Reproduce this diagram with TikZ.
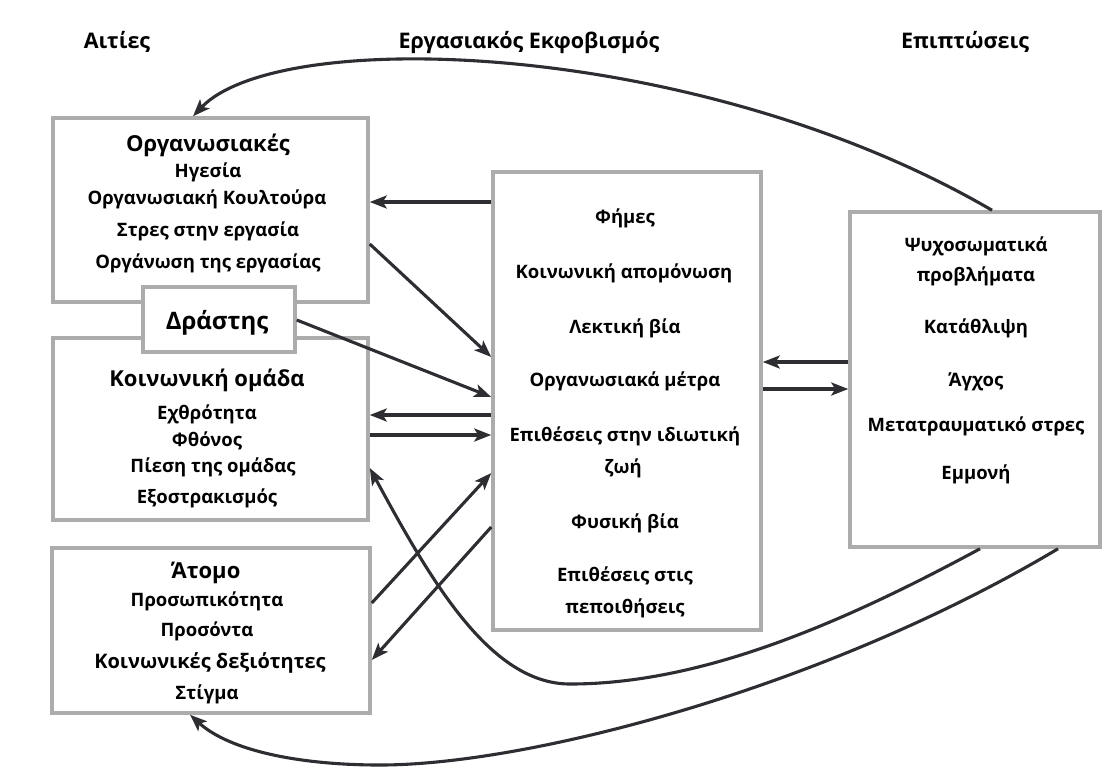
\documentclass[tikz,border=0pt]{standalone}
\usepackage{fontspec}
\setmainfont{Open Sans}
\usetikzlibrary{arrows.meta}
\definecolor{boxgray}{RGB}{172,172,172}
\definecolor{arrowgray}{RGB}{45,45,50}
\tikzset{
  boxnode/.style={draw=boxgray, line width=3.5pt, fill=white, inner sep=0pt, rectangle},
  item/.style={anchor=base, inner sep=0pt, font=\bfseries\fontsize{18.5}{22}\selectfont},
  head/.style={anchor=base, inner sep=0pt, font=\bfseries\fontsize{22}{26}\selectfont},
  title/.style={anchor=base, inner sep=0pt, font=\bfseries\fontsize{21.5}{25}\selectfont},
  arr/.style={draw=arrowgray, line width=3.1pt, -{Stealth[length=17pt,width=13pt,inset=4pt]}},
}
\begin{document}
\begin{tikzpicture}[x=1pt,y=-1pt]
\useasboundingbox (0,0) rectangle (1110,780);
% titles
\node[title] (tcause) at (117,48) {Αιτίες};
\node[title] (tbully) at (529,48) {Εργασιακός Εκφοβισμός};
\node[title] (teff) at (965,48) {Επιπτώσεις};
% boxes
\node[boxnode, minimum width=315pt, minimum height=184pt] (org) at (210.5,210) {};
\node[boxnode, minimum width=315pt, minimum height=182pt] (soc) at (210.5,429) {};
\node[boxnode, minimum width=318pt, minimum height=165pt] (atom) at (211,630.5) {};
\node[boxnode, minimum width=268pt, minimum height=458pt] (mid) at (627,401) {};
\node[boxnode, minimum width=250pt, minimum height=335pt] (eff) at (975,379.5) {};
\node[boxnode, minimum width=152pt, minimum height=65pt] (per) at (219,319.5) {};
% org texts
\node[head] (o0) at (208,151) {Οργανωσιακές};
\node[item] (o1) at (208,177) {Ηγεσία};
\node[item] (o2) at (207,204) {Οργανωσιακή Κουλτούρα};
\node[item] (o3) at (208,236) {Στρες στην εργασία};
\node[item] (o4) at (208,268) {Οργάνωση της εργασίας};
% perpetrator
\node[anchor=base, inner sep=0pt, font=\bfseries\fontsize{24}{28}\selectfont] (p0) at (217,329) {Δράστης};
% social group
\node[head] (s0) at (207,386) {Κοινωνική ομάδα};
\node[item] (s1) at (207,419) {Εχθρότητα};
\node[item] (s2) at (207,446) {Φθόνος};
\node[item] (s3) at (213,472) {Πίεση της ομάδας};
\node[item] (s4) at (207,503) {Εξοστρακισμός};
% individual
\node[head] (a0) at (206,578) {Άτομο};
\node[item] (a1) at (207,606) {Προσωπικότητα};
\node[item] (a2) at (207,636) {Προσόντα};
\node[item, font=\bfseries\fontsize{20}{24}\selectfont] (a3) at (210,668) {Κοινωνικές δεξιότητες};
\node[item] (a4) at (207,699) {Στίγμα};
% bullying forms
\node[item] (m1) at (625,223) {Φήμες};
\node[item] (m2) at (624,278) {Κοινωνική απομόνωση};
\node[item] (m3) at (625,333) {Λεκτική βία};
\node[item] (m4) at (625,386) {Οργανωσιακά μέτρα};
\node[item] (m5) at (625,441) {Επιθέσεις στην ιδιωτική};
\node[item] (m6) at (623,473) {ζωή};
\node[item] (m7) at (625,528) {Φυσική βία};
\node[item] (m8) at (625,581) {Επιθέσεις στις};
\node[item] (m9) at (625,613) {πεποιθήσεις};
% effects
\node[item] (e1) at (976,251) {Ψυχοσωματικά};
\node[item] (e2) at (976,281) {προβλήματα};
\node[item] (e3) at (976,333) {Κατάθλιψη};
\node[item] (e4) at (976,386) {Άγχος};
\node[item] (e5) at (976,431) {Μετατραυματικό στρες};
\node[item] (e6) at (976,479) {Εμμονή};
% straight connectors
\draw[arr] (mid.west |- {(0,202)}) -- (org.east |- {(0,202)});
\draw[arr] (org.east |- {(0,244)}) -- (mid.west |- {(0,357)});
\draw[arr] (per.east |- {(0,320)}) -- (mid.west |- {(0,397)});
\draw[arr] (mid.west |- {(0,415)}) -- (soc.east |- {(0,415)});
\draw[arr] (soc.east |- {(0,435)}) -- (mid.west |- {(0,435)});
\draw[arr] (atom.east |- {(0,603)}) -- (mid.west |- {(0,473)});
\draw[arr] (mid.west |- {(0,527)}) -- (atom.east |- {(0,660)});
\draw[arr] (eff.west |- {(0,362)}) -- (mid.east |- {(0,362)});
\draw[arr] (mid.east |- {(0,389)}) -- (eff.west |- {(0,389)});
% curved connectors
\coordinate (c1) at (570,684);
\coordinate (c2) at (380,765);
\draw[arr] (eff.north -| {(992,0)}) .. controls (700,40) and (280,25) .. (org.north -| {(193,0)});
\draw[arr] (eff.south -| {(980,0)}) .. controls (839,625) and (700,684) .. (c1)
   .. controls (490,684) and (431,581) .. (soc.south east |- {(373,468)}) ;
\draw[arr] (eff.south -| {(1058,0)}) .. controls (826,687) and (530,765) .. (c2)
   .. controls (300,765) and (230,751) .. (atom.south -| {(190,0)});
\end{tikzpicture}
\end{document}
